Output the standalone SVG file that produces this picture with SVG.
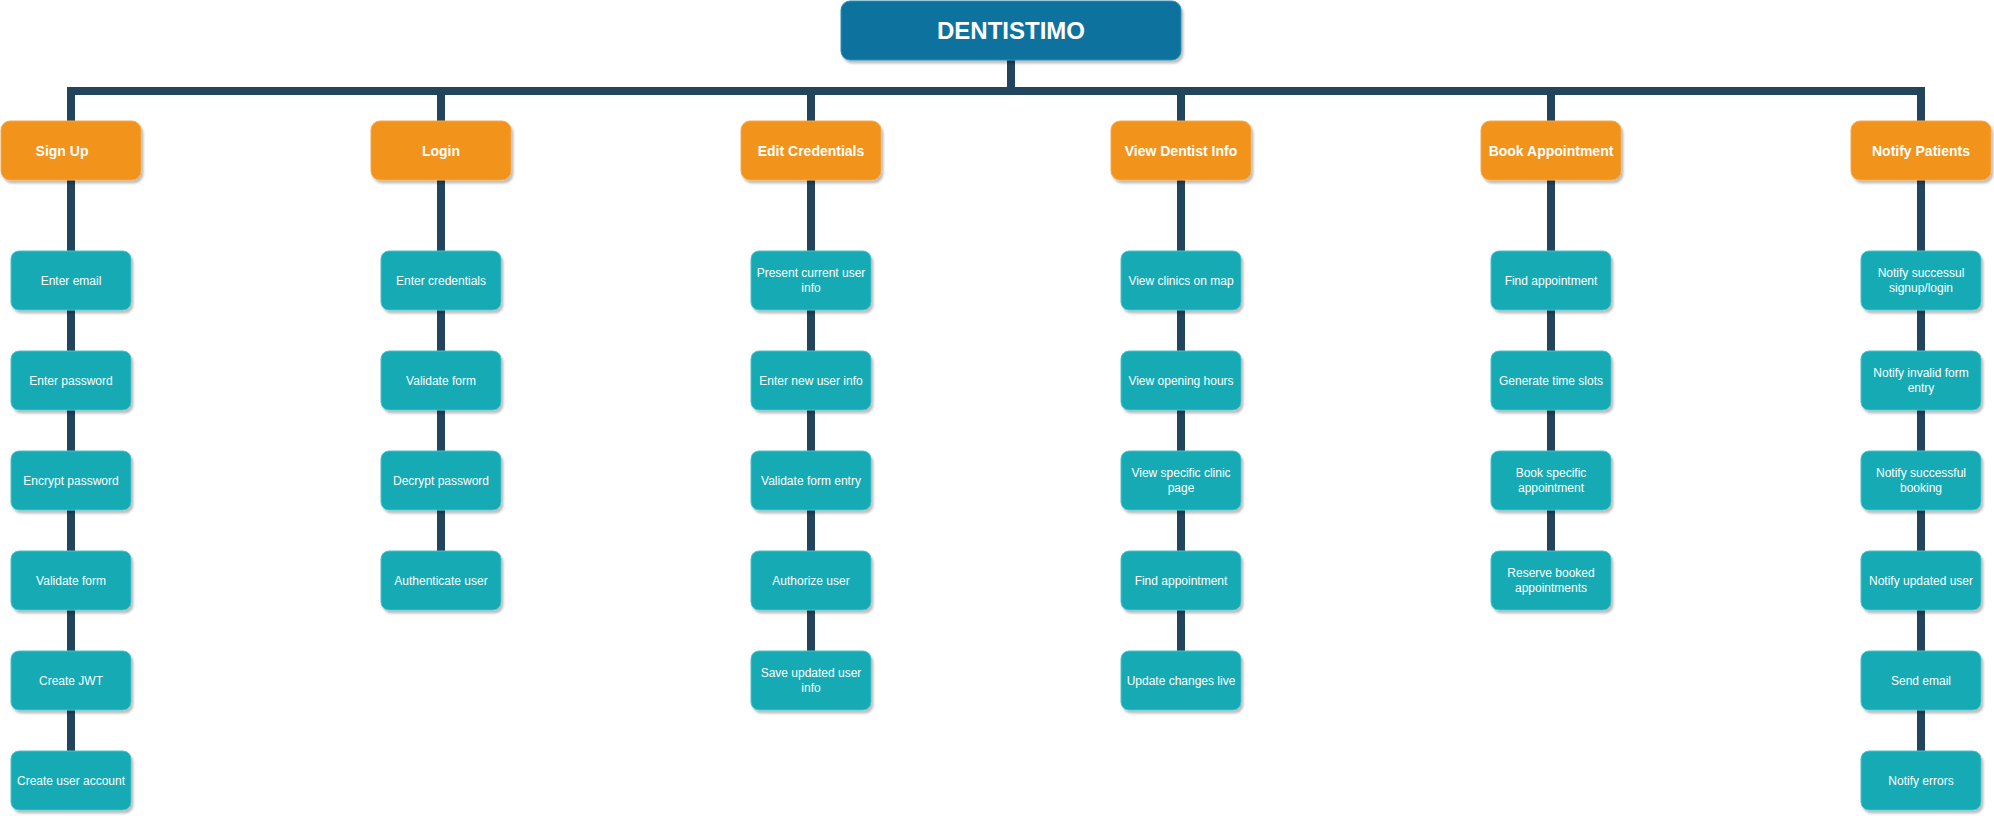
<svg xmlns="http://www.w3.org/2000/svg" width="1994" height="816" viewBox="0 0 1994 816">
<defs>
<filter id="sh" x="-10%" y="-10%" width="130%" height="140%">
<feDropShadow dx="2" dy="3" stdDeviation="1" flood-color="#000" flood-opacity="0.25"/>
</filter>
</defs>
<style>
.c{fill:none;stroke:#23445D;stroke-width:8;stroke-linejoin:miter}
.root rect{fill:#10739E;stroke:#2f90b8;stroke-width:1;filter:url(#sh)}
.hd rect{fill:#F2931E;stroke:#f5a84a;stroke-width:1;filter:url(#sh)}
.ch rect{fill:#12AAB5;stroke:#4cc3cb;stroke-width:1;filter:url(#sh)}
text{fill:#fff;font-family:"Liberation Sans",Arial,Helvetica,sans-serif;text-anchor:middle;dominant-baseline:central}
.root text{font-size:24px;font-weight:bold}
.hd text{font-size:14px;font-weight:bold}
.ch text{font-size:12px}
</style>
<g id="connectors">
<path class="c" d="M1011 60V91H71V121"/>
<path class="c" d="M1011 60V91H441V121"/>
<path class="c" d="M1011 60V91H811V121"/>
<path class="c" d="M1011 60V91H1181V121"/>
<path class="c" d="M1011 60V91H1551V121"/>
<path class="c" d="M1011 60V91H1921V121"/>
<path class="c" d="M71 180V751"/>
<path class="c" d="M441 180V551"/>
<path class="c" d="M811 180V651"/>
<path class="c" d="M1181 180V651"/>
<path class="c" d="M1551 180V551"/>
<path class="c" d="M1921 180V751"/>
</g>
<g id="root" class="root"><rect x="841" y="1" width="340" height="59" rx="9"/><text x="1011" y="30">DENTISTIMO</text></g>

<g id="h-signup" class="hd"><rect x="1" y="121" width="140" height="59" rx="9"/><text x="62" y="150.5">Sign Up</text></g>
<g id="h-login" class="hd"><rect x="371" y="121" width="140" height="59" rx="9"/><text x="441" y="150.5">Login</text></g>
<g id="h-edit" class="hd"><rect x="741" y="121" width="140" height="59" rx="9"/><text x="811" y="150.5">Edit Credentials</text></g>
<g id="h-view" class="hd"><rect x="1111" y="121" width="140" height="59" rx="9"/><text x="1181" y="150.5">View Dentist Info</text></g>
<g id="h-book" class="hd"><rect x="1481" y="121" width="140" height="59" rx="9"/><text x="1551" y="150.5">Book Appointment</text></g>
<g id="h-notify" class="hd"><rect x="1851" y="121" width="140" height="59" rx="9"/><text x="1921" y="150.5">Notify Patients</text></g>

<g id="s1" class="ch"><rect x="11" y="251" width="120" height="59" rx="8"/><text x="71" y="280.5">Enter email</text></g>
<g id="s2" class="ch"><rect x="11" y="351" width="120" height="59" rx="8"/><text x="71" y="380.5">Enter password</text></g>
<g id="s3" class="ch"><rect x="11" y="451" width="120" height="59" rx="8"/><text x="71" y="480.5">Encrypt password</text></g>
<g id="s4" class="ch"><rect x="11" y="551" width="120" height="59" rx="8"/><text x="71" y="580.5">Validate form</text></g>
<g id="s5" class="ch"><rect x="11" y="651" width="120" height="59" rx="8"/><text x="71" y="680.5">Create JWT</text></g>
<g id="s6" class="ch"><rect x="11" y="751" width="120" height="59" rx="8"/><text x="71" y="780.5">Create user account</text></g>

<g id="l1" class="ch"><rect x="381" y="251" width="120" height="59" rx="8"/><text x="441" y="280.5">Enter credentials</text></g>
<g id="l2" class="ch"><rect x="381" y="351" width="120" height="59" rx="8"/><text x="441" y="380.5">Validate form</text></g>
<g id="l3" class="ch"><rect x="381" y="451" width="120" height="59" rx="8"/><text x="441" y="480.5">Decrypt password</text></g>
<g id="l4" class="ch"><rect x="381" y="551" width="120" height="59" rx="8"/><text x="441" y="580.5">Authenticate user</text></g>

<g id="e1" class="ch"><rect x="751" y="251" width="120" height="59" rx="8"/><text x="811" y="273">Present current user</text><text x="811" y="288">info</text></g>
<g id="e2" class="ch"><rect x="751" y="351" width="120" height="59" rx="8"/><text x="811" y="380.5">Enter new user info</text></g>
<g id="e3" class="ch"><rect x="751" y="451" width="120" height="59" rx="8"/><text x="811" y="480.5">Validate form entry</text></g>
<g id="e4" class="ch"><rect x="751" y="551" width="120" height="59" rx="8"/><text x="811" y="580.5">Authorize user</text></g>
<g id="e5" class="ch"><rect x="751" y="651" width="120" height="59" rx="8"/><text x="811" y="673">Save updated user</text><text x="811" y="688">info</text></g>

<g id="v1" class="ch"><rect x="1121" y="251" width="120" height="59" rx="8"/><text x="1181" y="280.5">View clinics on map</text></g>
<g id="v2" class="ch"><rect x="1121" y="351" width="120" height="59" rx="8"/><text x="1181" y="380.5">View opening hours</text></g>
<g id="v3" class="ch"><rect x="1121" y="451" width="120" height="59" rx="8"/><text x="1181" y="473">View specific clinic</text><text x="1181" y="488">page</text></g>
<g id="v4" class="ch"><rect x="1121" y="551" width="120" height="59" rx="8"/><text x="1181" y="580.5">Find appointment</text></g>
<g id="v5" class="ch"><rect x="1121" y="651" width="120" height="59" rx="8"/><text x="1181" y="680.5">Update changes live</text></g>

<g id="b1" class="ch"><rect x="1491" y="251" width="120" height="59" rx="8"/><text x="1551" y="280.5">Find appointment</text></g>
<g id="b2" class="ch"><rect x="1491" y="351" width="120" height="59" rx="8"/><text x="1551" y="380.5">Generate time slots</text></g>
<g id="b3" class="ch"><rect x="1491" y="451" width="120" height="59" rx="8"/><text x="1551" y="473">Book specific</text><text x="1551" y="488">appointment</text></g>
<g id="b4" class="ch"><rect x="1491" y="551" width="120" height="59" rx="8"/><text x="1551" y="573">Reserve booked</text><text x="1551" y="588">appointments</text></g>

<g id="n1" class="ch"><rect x="1861" y="251" width="120" height="59" rx="8"/><text x="1921" y="273">Notify successul</text><text x="1921" y="288">signup/login</text></g>
<g id="n2" class="ch"><rect x="1861" y="351" width="120" height="59" rx="8"/><text x="1921" y="373">Notify invalid form</text><text x="1921" y="388">entry</text></g>
<g id="n3" class="ch"><rect x="1861" y="451" width="120" height="59" rx="8"/><text x="1921" y="473">Notify successful</text><text x="1921" y="488">booking</text></g>
<g id="n4" class="ch"><rect x="1861" y="551" width="120" height="59" rx="8"/><text x="1921" y="580.5">Notify updated user</text></g>
<g id="n5" class="ch"><rect x="1861" y="651" width="120" height="59" rx="8"/><text x="1921" y="680.5">Send email</text></g>
<g id="n6" class="ch"><rect x="1861" y="751" width="120" height="59" rx="8"/><text x="1921" y="780.5">Notify errors</text></g>
</svg>
